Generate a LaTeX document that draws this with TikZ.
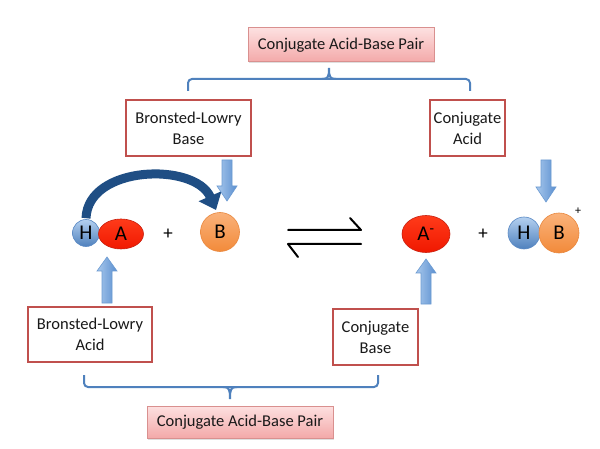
\documentclass[tikz,border=0pt]{standalone}
\usepackage{fontspec}
\setmainfont{Carlito}
\usetikzlibrary{arrows.meta,shadows,shapes.geometric}
\definecolor{boxred}{HTML}{C0504D}
\definecolor{pinktop}{HTML}{FDE0E0}
\definecolor{pinkbot}{HTML}{F3A9A9}
\definecolor{pinkline}{HTML}{D9908F}
\definecolor{bracecol}{HTML}{4F81BD}
\definecolor{arrtop}{HTML}{A9C8EC}
\definecolor{arrbot}{HTML}{5A8FD0}
\definecolor{arrline}{HTML}{6C9BD2}
\definecolor{htop}{HTML}{B4D0F0}
\definecolor{hbot}{HTML}{4F81BD}
\definecolor{hline}{HTML}{5B8AC5}
\definecolor{redtop}{HTML}{FF3B1A}
\definecolor{redbot}{HTML}{F01800}
\definecolor{redline}{HTML}{C8200F}
\definecolor{ortop}{HTML}{FAB27A}
\definecolor{orbot}{HTML}{F28A3A}
\definecolor{orline}{HTML}{E9883F}
\definecolor{curvecol}{HTML}{1F4E84}
\begin{document}
\begin{tikzpicture}[x=1pt,y=-1pt,
  txt/.style={font=\fontsize{16.5}{21}\selectfont, align=center, text=black!90},
  wbox/.style={txt, draw=boxred, line width=1.8pt, fill=white, inner sep=0pt},
  pbox/.style={txt, draw=pinkline, line width=1pt, top color=pinktop, bottom color=pinkbot, inner sep=0pt,
     drop shadow={opacity=0.25, shadow xshift=1.2pt, shadow yshift=-1.5pt}},
  brace/.style={draw=bracecol, line width=2pt, rounded corners=4pt},
  blk/.style={draw=arrline, line width=0.6pt, left color=arrtop, right color=arrbot},
  hball/.style={circle, draw=hline, line width=0.6pt, top color=htop, bottom color=hbot, inner sep=0pt, font=\fontsize{21}{21}\selectfont},
  aball/.style={ellipse, draw=redline, line width=0.6pt, top color=redtop, bottom color=redbot, inner sep=0pt, font=\fontsize{21}{21}\selectfont},
  bball/.style={circle, draw=orline, line width=0.6pt, top color=ortop, bottom color=orbot, inner sep=0pt, font=\fontsize{21}{21}\selectfont},
  plus/.style={font=\fontsize{19}{19}\selectfont, inner sep=0pt}
]
\useasboundingbox (0,0) rectangle (600,449);
\fill[white] (0,0) rectangle (600,449);

% boxes
\node[pbox, minimum width=186pt, minimum height=34pt] (toppair) at (341,45) {Conjugate Acid-Base Pair};
\node[wbox, minimum width=125pt, minimum height=56pt] (blbase) at (188.5,128) {Bronsted-Lowry\\Base};
\node[wbox, minimum width=75pt, minimum height=56pt] (conjacid) at (467.5,128) {Conjugate\\Acid};
\node[wbox, minimum width=124pt, minimum height=55pt] (blacid) at (90,334.5) {Bronsted-Lowry\\Acid};
\node[wbox, minimum width=85pt, minimum height=56pt] (conjbase) at (375.5,337) {Conjugate\\Base};
\node[pbox, minimum width=186pt, minimum height=32pt] (botpair) at (240,422) {Conjugate Acid-Base Pair};

% braces
\draw[brace] (188,91) -- (188,79) -- (470,79) -- (470,91);
\draw[draw=bracecol, line width=2pt] (322,79) .. controls (328,79) and (329,77) .. (329,68)
  .. controls (329,77) and (330,79) .. (336,79);
\draw[brace] (84,375) -- (84,387) -- (378,387) -- (378,375);
\draw[draw=bracecol, line width=2pt] (223,387) .. controls (229,387) and (230,389) .. (230,399)
  .. controls (230,389) and (231,387) .. (237,387);

% molecules left
\node[hball, minimum size=27pt] (h1) at (86,233) {H};
\node[aball, minimum width=45pt, minimum height=30pt] (a1) at (121,234) {A};
\node[plus] (p1) at (168,234) {+};
\node[bball, minimum size=39pt] (b1) at (220,232) {B};

% equilibrium arrows
\coordinate (eqL) at (288,237);
\coordinate (eqR) at (361,237);
\draw[line width=2pt, line cap=round, line join=round] (288,230) -- (361,230) -- (350,218);
\draw[line width=2pt, line cap=round, line join=round] (361,244) -- (288,244) -- (298,257);

% molecules right
\node[aball, minimum width=48pt, minimum height=37pt] (a2) at (426,234) {A\textsuperscript{-}};
\node[plus] (p2) at (483,234) {+};
\node[hball, minimum size=32pt] (h2) at (524,233) {H};
\node[bball, minimum size=40pt] (b2) at (559,233) {B};
\node[font=\fontsize{12}{12}\selectfont, inner sep=0pt] (chg) at (578,211) {+};

% curved arrow
\draw[curvecol, line width=9pt, -{Triangle[length=15pt,width=24pt]}]
  (h1.north) ++(0,-1) .. controls (88,165) and (195,162) .. (216,210);

% block arrows
\draw[blk] (222,160) -- (232,160) -- (232,186) -- (237,186) -- (227,201) -- (217,186) -- (222,186) -- cycle;
\draw[blk] (541,160) -- (551,160) -- (551,187) -- (556,187) -- (546,202) -- (536,187) -- (541,187) -- cycle;
\draw[blk] (102,303) -- (112,303) -- (112,271) -- (117,271) -- (107,257) -- (97,271) -- (102,271) -- cycle;
\draw[blk] (421,304) -- (431,304) -- (431,273) -- (436,273) -- (426,259) -- (416,273) -- (421,273) -- cycle;
\end{tikzpicture}
\end{document}
